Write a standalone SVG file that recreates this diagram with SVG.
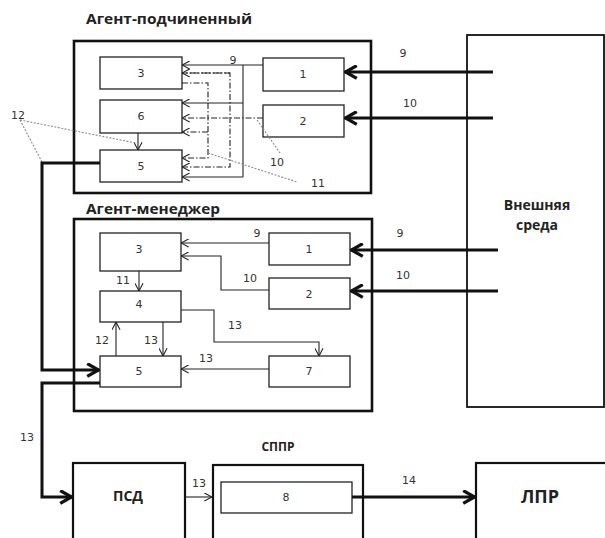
<svg xmlns="http://www.w3.org/2000/svg" width="605" height="538" viewBox="0 0 605 538">
<style>
.box{fill:#fff;stroke:#222;stroke-width:1.3}
.big{fill:none;stroke:#111;stroke-width:2.6}
.ln{fill:none;stroke:#222;stroke-width:1.1}
.dd{fill:none;stroke:#222;stroke-width:1.1;stroke-dasharray:6,2,1.5,2}
.th{fill:none;stroke:#111;stroke-width:3}
.lead{fill:none;stroke:#8a8a8a;stroke-width:1.1;stroke-dasharray:2,1.5}
.n{font-family:"DejaVu Sans",sans-serif;font-size:11px;fill:#333;text-anchor:middle}
.t{font-family:"Open Sans","DejaVu Sans",sans-serif;font-weight:bold;fill:#222}
</style>
<defs>
<marker id="a" viewBox="0 0 10 10" refX="9.5" refY="5" markerWidth="9" markerHeight="9" markerUnits="userSpaceOnUse" orient="auto"><path d="M1,0.5 L9.5,5 L1,9.5" fill="none" stroke="#222" stroke-width="1.2"/></marker>
<marker id="A" viewBox="0 0 14 14" refX="13" refY="7" markerWidth="15" markerHeight="15" markerUnits="userSpaceOnUse" orient="auto"><path d="M2,1 L12.5,7 L2,13" fill="none" stroke="#111" stroke-width="3"/></marker>
</defs>
<rect width="605" height="538" fill="#fff"/>

<g id="env"><rect class="big" x="467" y="35" width="137" height="372" style="stroke-width:1.8"/>
<text class="t" x="537" y="210" font-size="14" text-anchor="middle">Внешняя</text>
<text class="t" x="537" y="230" font-size="14" text-anchor="middle">среда</text></g>

<g id="agent-sub"><rect class="big" x="74" y="41" width="297" height="152"/>
<text class="t" x="86" y="24" font-size="14" textLength="166" lengthAdjust="spacingAndGlyphs">Агент-подчиненный</text></g>
<g id="s3"><rect class="box" x="100" y="57" width="82" height="32"/><text class="n" x="141" y="77">3</text></g>
<g id="s6"><rect class="box" x="100" y="100" width="82" height="33"/><text class="n" x="141" y="120">6</text></g>
<g id="s5"><rect class="box" x="100" y="150" width="82" height="32"/><text class="n" x="141" y="170">5</text></g>
<g id="s1"><rect class="box" x="263" y="58" width="81" height="33"/><text class="n" x="303" y="78">1</text></g>
<g id="s2"><rect class="box" x="263" y="105" width="81" height="32"/><text class="n" x="303" y="125">2</text></g>

<g id="agent-man"><rect class="big" x="74" y="219" width="298" height="192"/>
<text class="t" x="86" y="214" font-size="14" textLength="134" lengthAdjust="spacingAndGlyphs">Агент-менеджер</text></g>
<g id="m3"><rect class="box" x="100" y="233" width="81" height="38"/><text class="n" x="139" y="253">3</text></g>
<g id="m4"><rect class="box" x="100" y="291" width="81" height="31"/><text class="n" x="139" y="308">4</text></g>
<g id="m5"><rect class="box" x="100" y="356" width="81" height="31"/><text class="n" x="139" y="375">5</text></g>
<g id="m1"><rect class="box" x="269" y="233" width="81" height="32"/><text class="n" x="309" y="253">1</text></g>
<g id="m2"><rect class="box" x="269" y="278" width="81" height="31"/><text class="n" x="309" y="298">2</text></g>
<g id="m7"><rect class="box" x="269" y="356" width="81" height="31"/><text class="n" x="309" y="375">7</text></g>

<g id="psd"><rect class="big" x="73" y="463" width="112" height="80" style="stroke-width:2.2"/><text class="t" x="128" y="501" font-size="14" text-anchor="middle">ПСД</text></g>
<g id="sppr"><rect class="big" x="213" y="465" width="150" height="80" style="stroke-width:2.2"/>
<text class="t" x="278" y="451" font-size="12" text-anchor="middle">СППР</text></g>
<g id="b8"><rect class="box" x="221" y="482" width="131" height="31"/><text class="n" x="286" y="501">8</text></g>
<g id="lpr"><rect class="big" x="476" y="463" width="135" height="80" style="stroke-width:2.2"/><text class="t" x="540" y="503" font-size="18" text-anchor="middle">ЛПР</text></g>

<g id="connectors">
<!-- external thick -->
<line class="th" x1="493" y1="72" x2="345" y2="72" marker-end="url(#A)"/>
<line class="th" x1="493" y1="118" x2="345" y2="118" marker-end="url(#A)"/>
<line class="th" x1="498" y1="250" x2="351" y2="250" marker-end="url(#A)"/>
<line class="th" x1="498" y1="291" x2="351" y2="291" marker-end="url(#A)"/>
<!-- sub: solid from 1 -->
<line class="ln" x1="263" y1="65" x2="182" y2="65" marker-end="url(#a)"/>
<polyline class="ln" points="243,65 243,177"/>
<line class="ln" x1="243" y1="103" x2="182" y2="103" marker-end="url(#a)"/>
<line class="ln" x1="243" y1="177" x2="182" y2="177" marker-end="url(#a)"/>
<!-- sub: dash-dot from 2 -->
<line class="dd" x1="263" y1="118" x2="182" y2="118" marker-end="url(#a)"/>
<polyline class="dd" points="182,73 230,73 230,167 182,167" marker-end="url(#a)"/>
<line class="dd" x1="230" y1="73" x2="182" y2="73" marker-end="url(#a)"/>
<polyline class="dd" points="182,83 208,83 208,158 182,158" marker-end="url(#a)"/>
<line class="dd" x1="208" y1="132" x2="182" y2="132" marker-end="url(#a)"/>
<!-- 6 -> 5 -->
<line class="ln" x1="138" y1="133" x2="138" y2="150" marker-end="url(#a)"/>
<!-- leaders -->
<line class="lead" x1="20" y1="120" x2="136" y2="143"/>
<line class="lead" x1="20" y1="120" x2="42" y2="162"/>
<line class="lead" x1="257" y1="120" x2="280" y2="153"/>
<line class="lead" x1="208" y1="153" x2="297" y2="182"/>
<!-- thick sub 5 -> man 5 -->
<polyline class="th" points="100,163 42,163 42,370 99,370" marker-end="url(#A)"/>
<!-- man 5 -> ПСД -->
<polyline class="th" points="100,383 42,383 42,497 72,497" marker-end="url(#A)"/>
<!-- manager internal -->
<line class="ln" x1="269" y1="243" x2="181" y2="243" marker-end="url(#a)"/>
<polyline class="ln" points="269,290 221,290 221,256 181,256" marker-end="url(#a)"/>
<line class="ln" x1="139" y1="271" x2="139" y2="291" marker-end="url(#a)"/>
<polyline class="ln" points="181,310 214,310 214,342 319,342 319,356" marker-end="url(#a)"/>
<line class="ln" x1="163" y1="322" x2="163" y2="356" marker-end="url(#a)"/>
<line class="ln" x1="116" y1="356" x2="116" y2="322" marker-end="url(#a)"/>
<line class="ln" x1="269" y1="369" x2="181" y2="369" marker-end="url(#a)"/>
<!-- bottom -->
<line class="ln" x1="185" y1="497" x2="212" y2="497" marker-end="url(#a)"/>
<line class="th" x1="352" y1="497" x2="475" y2="497" marker-end="url(#A)"/>
</g>

<g id="labels">
<text class="n" x="233" y="64">9</text>
<text class="n" x="403" y="57">9</text>
<text class="n" x="410" y="107">10</text>
<text class="n" x="277" y="166">10</text>
<text class="n" x="318" y="187">11</text>
<text class="n" x="18" y="119">12</text>
<text class="n" x="257" y="237">9</text>
<text class="n" x="250" y="282">10</text>
<text class="n" x="400" y="237">9</text>
<text class="n" x="403" y="279">10</text>
<text class="n" x="123" y="284">11</text>
<text class="n" x="235" y="329">13</text>
<text class="n" x="102" y="344">12</text>
<text class="n" x="151" y="344">13</text>
<text class="n" x="206" y="362">13</text>
<text class="n" x="27" y="441">13</text>
<text class="n" x="199" y="487">13</text>
<text class="n" x="409" y="484">14</text>
</g>
</svg>
